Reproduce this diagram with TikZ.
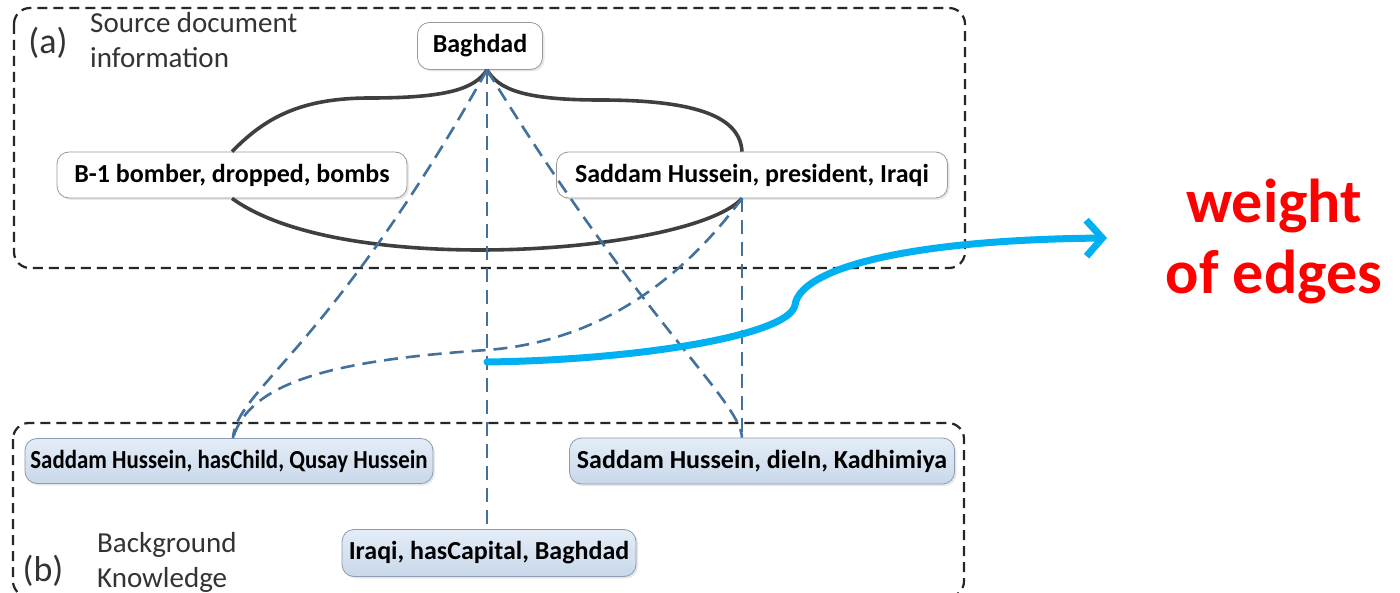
\documentclass[tikz,border=0pt]{standalone}
\usepackage{fontspec}
\setmainfont{Carlito}
\newfontfamily\narrowfont[FakeStretch=0.88]{Carlito}
\usetikzlibrary{arrows.meta, shadows}

\definecolor{linkgray}{HTML}{3F3F3F}
\definecolor{relblue}{HTML}{41719C}
\definecolor{arrcyan}{HTML}{00B0F0}
\definecolor{kbtop}{HTML}{E4EDF7}
\definecolor{kbbot}{HTML}{C8D8EA}
\definecolor{kbdraw}{HTML}{8A9BB2}

\begin{document}
\begin{tikzpicture}[x=1pt, y=-1pt,
  groupbox/.style={draw=black!85, line width=2.2pt, dash pattern=on 10pt off 6pt, rounded corners=16pt},
  docnode/.style={draw=black!40, line width=0.8pt, rounded corners=12pt, fill=white, minimum height=46pt,
    inner sep=0pt, font=\fontsize{26}{30}\selectfont\bfseries,
    drop shadow={shadow xshift=2pt, shadow yshift=-2pt, opacity=0.18}},
  kbnode/.style={docnode, draw=kbdraw, top color=kbtop, bottom color=kbbot},
  tag/.style={font=\fontsize{36}{40}\selectfont, text=black!80, inner sep=0pt},
  caption/.style={align=left, font=\fontsize{29}{35}\selectfont, text=black!80, inner sep=0pt, anchor=west},
  link/.style={draw=linkgray, line width=3.6pt},
  rel/.style={draw=relblue, line width=2.6pt, dash pattern=on 14pt off 8pt},
  weightarr/.style={draw=arrcyan, line width=7pt, line cap=round, -{Straight Barb[length=16pt, width=36pt]}}
]
  \useasboundingbox[fill=white] (0,0) rectangle (1400,593);

  \draw[groupbox] (14,8) rectangle (965,268);
  \draw[groupbox] (13,423) rectangle (964,597);

  \node[tag] (taga) at (48,43) {(a)};
  \node[caption] (srclabel) at (90,40) {Source document\\information};
  \node[tag] (tagb) at (43,571) {(b)};
  \node[caption] (bglabel) at (97,562) {Background\\Knowledge};

  \node[docnode, minimum width=125pt, minimum height=47pt] (baghdad) at (480,46) {Baghdad};
  \node[docnode, minimum width=350pt] (bomber) at (232,175) {B-1 bomber, dropped, bombs};
  \node[docnode, minimum width=391pt] (president) at (752,175) {Saddam Hussein, president, Iraqi};

  \node[kbnode, minimum width=408pt, minimum height=45pt] (haschild) at (229,461) {\narrowfont\bfseries Saddam Hussein, hasChild, Qusay Hussein};
  \node[kbnode, minimum width=385pt] (diein) at (762,461) {Saddam Hussein, dieIn, Kadhimiya};
  \node[kbnode, minimum width=294pt, minimum height=47pt] (capital) at (489,553) {Iraqi, hasCapital, Baghdad};

  \node[align=center, inner sep=0pt, text=red, font=\fontsize{62}{71}\selectfont\bfseries] (weight) at (1274,242) {weight\\of edges};

  \coordinate (apex) at ([xshift=7pt]baghdad.south);
  \coordinate (ptop) at ([xshift=-10pt]president.north);
  \coordinate (pbot) at ([xshift=-10pt]president.south);
  \coordinate (hubrow) at (0,362);
  \coordinate (hub) at (apex |- hubrow);
  \coordinate (tip) at (1107,238);

  \draw[link] (bomber.north) .. controls (265,118) and (300,98) .. (370,98)
    .. controls (450,98) and (475,88) .. (apex);
  \draw[link] (apex) .. controls (498,88) and (520,100) .. (600,100)
    .. controls (700,100) and (740,118) .. (ptop);
  \draw[link] (bomber.south) .. controls (290,240) and (400,250) .. (480,250)
    .. controls (600,250) and (715,228) .. (pbot);

  \draw[rel] (apex) .. controls (330,350) and (236,390) .. ([xshift=4pt]haschild.north);
  \draw[rel] (pbot) .. controls (700,255) and (620,340) .. (487,350)
    .. controls (340,360) and (250,380) .. ([xshift=4pt]haschild.north);
  \draw[rel] (apex) -- (apex |- capital.north);
  \draw[rel] (apex) .. controls (640,320) and (740,400) .. (pbot |- diein.north);
  \draw[rel] (pbot) -- (pbot |- diein.north);

  \draw[weightarr] (hub) .. controls (640,360) and (790,335) .. (795,305)
    .. controls (800,270) and (900,240) .. (tip);
\end{tikzpicture}
\end{document}
